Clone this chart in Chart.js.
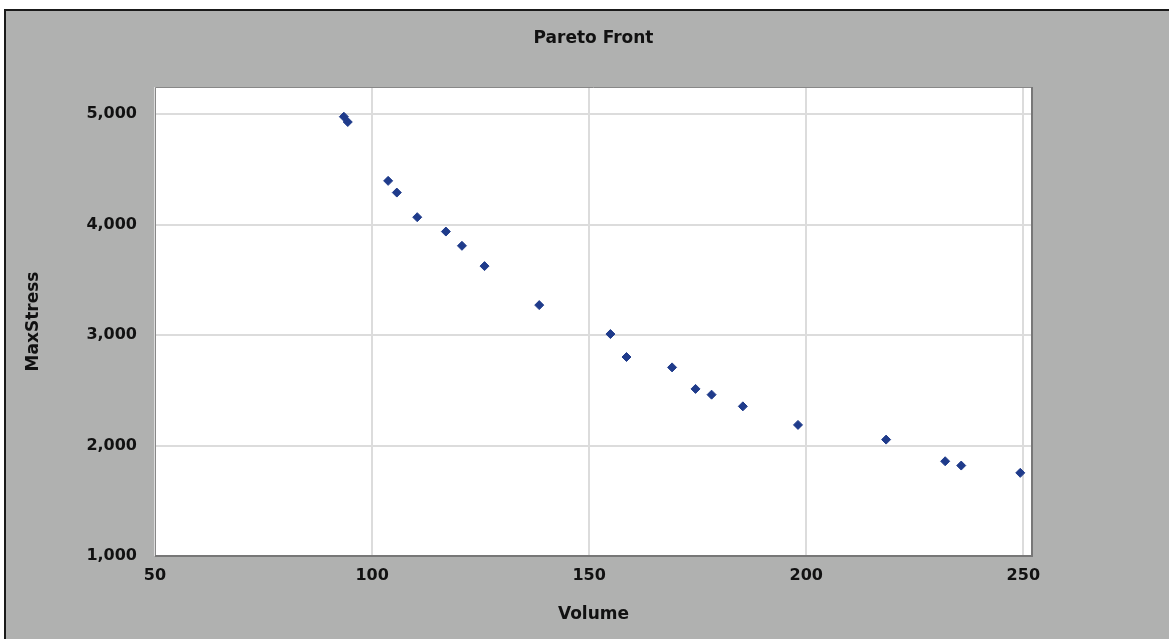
<!DOCTYPE html>
<html>
<head>
<meta charset="utf-8">
<script src="https://cdn.jsdelivr.net/npm/chart.js@4/dist/chart.umd.min.js"></script>
<style>
  html, body { margin: 0; padding: 0; background: #fff; }
  #wrap { width: 1169px; height: 639px; }
</style>
</head>
<body>
<div id="wrap"><canvas id="pareto"></canvas></div>
<script>
// values
const volume = [93.5, 94.4, 103.7, 105.7, 110.4, 117.0, 120.7, 125.9, 138.5, 154.9,
                158.6, 169.1, 174.5, 178.2, 185.4, 198.1, 218.4, 232.0, 235.7, 249.3];
const maxStress = [4978, 4930, 4397, 4291, 4068, 3938, 3809, 3625, 3272, 3010,
                   2802, 2708, 2513, 2461, 2355, 2187, 2054, 1858, 1819, 1753];
const xTicks = [50, 100, 150, 200, 250];
const yTicks = [1000, 2000, 3000, 4000, 5000];

const points = volume.map((v, i) => ({ x: v, y: maxStress[i] }));

const labelFont = { family: 'DejaVu Sans', size: 16, weight: 'bold' };
const titleFont = { family: 'DejaVu Sans', size: 17, weight: 'bold', lineHeight: 1.2 };

// grey panel with dark outer frame, white plot area
const panel = {
  id: 'panel',
  beforeDraw(chart) {
    const ctx = chart.ctx;
    const a = chart.chartArea;
    ctx.save();
    ctx.fillStyle = '#ffffff';
    ctx.fillRect(0, 0, chart.width, chart.height);
    ctx.fillStyle = '#b0b1b0';
    ctx.fillRect(5, 10, chart.width, chart.height);
    ctx.strokeStyle = '#1a1a1a';
    ctx.lineWidth = 2;
    ctx.beginPath();
    ctx.moveTo(5, chart.height);
    ctx.lineTo(5, 10);
    ctx.lineTo(chart.width, 10);
    ctx.stroke();
    ctx.fillStyle = '#ffffff';
    ctx.fillRect(a.left, a.top, a.right - a.left, a.bottom - a.top);
    ctx.restore();
  },
  afterDraw(chart) {
    const ctx = chart.ctx;
    const a = chart.chartArea;
    ctx.save();
    ctx.strokeStyle = '#888888';
    ctx.lineWidth = 1;
    ctx.beginPath();
    ctx.moveTo(a.left + 0.5, a.bottom);
    ctx.lineTo(a.left + 0.5, a.top + 0.5);
    ctx.lineTo(a.right, a.top + 0.5);
    ctx.stroke();
    ctx.strokeStyle = '#777777';
    ctx.lineWidth = 2;
    ctx.beginPath();
    ctx.moveTo(a.right, a.top);
    ctx.lineTo(a.right, a.bottom);
    ctx.lineTo(a.left, a.bottom);
    ctx.stroke();
    ctx.restore();
  }
};

new Chart(document.getElementById('pareto'), {
  type: 'scatter',
  data: {
    datasets: [{
      label: 'Pareto Front',
      data: points,
      pointStyle: 'rectRot',
      pointRadius: 4.5,
      pointHoverRadius: 4.5,
      backgroundColor: '#1f3b8b',
      borderColor: '#1f3b8b',
      borderWidth: 1
    }]
  },
  options: {
    responsive: true,
    maintainAspectRatio: false,
    animation: false,
    layout: { padding: { left: 5, top: 0, right: 137, bottom: 0 } },
    plugins: {
      legend: { display: false },
      tooltip: { enabled: false },
      title: {
        display: true,
        text: 'Pareto Front',
        fullSize: false,
        color: '#111',
        font: titleFont,
        padding: { top: 28.8, bottom: 37.8 }
      }
    },
    scales: {
      x: {
        type: 'linear',
        min: 50,
        max: 252,
        afterBuildTicks: s => { s.ticks = xTicks.map(v => ({ value: v })); },
        afterFit: s => { s.height = 83; },
        ticks: { color: '#111', font: labelFont, padding: 10, maxRotation: 0, callback: v => v },
        grid: { color: '#dcdcdc', lineWidth: 2, drawTicks: false },
        border: { display: false },
        title: { display: true, text: 'Volume', color: '#111', font: titleFont, padding: { top: 0, bottom: 13.8 } }
      },
      y: {
        type: 'linear',
        min: 1000,
        max: 5247,
        afterBuildTicks: s => { s.ticks = yTicks.map(v => ({ value: v })); },
        afterFit: s => { s.width = 150; },
        ticks: { color: '#111', font: labelFont, padding: 18, callback: v => v.toLocaleString('en-US') },
        grid: { color: '#dcdcdc', lineWidth: 2, drawTicks: false },
        border: { display: false },
        title: { display: true, text: 'MaxStress', color: '#111', font: titleFont, padding: { top: 18.8, bottom: 0 } }
      }
    }
  },
  plugins: [panel]
});
</script>
</body>
</html>
